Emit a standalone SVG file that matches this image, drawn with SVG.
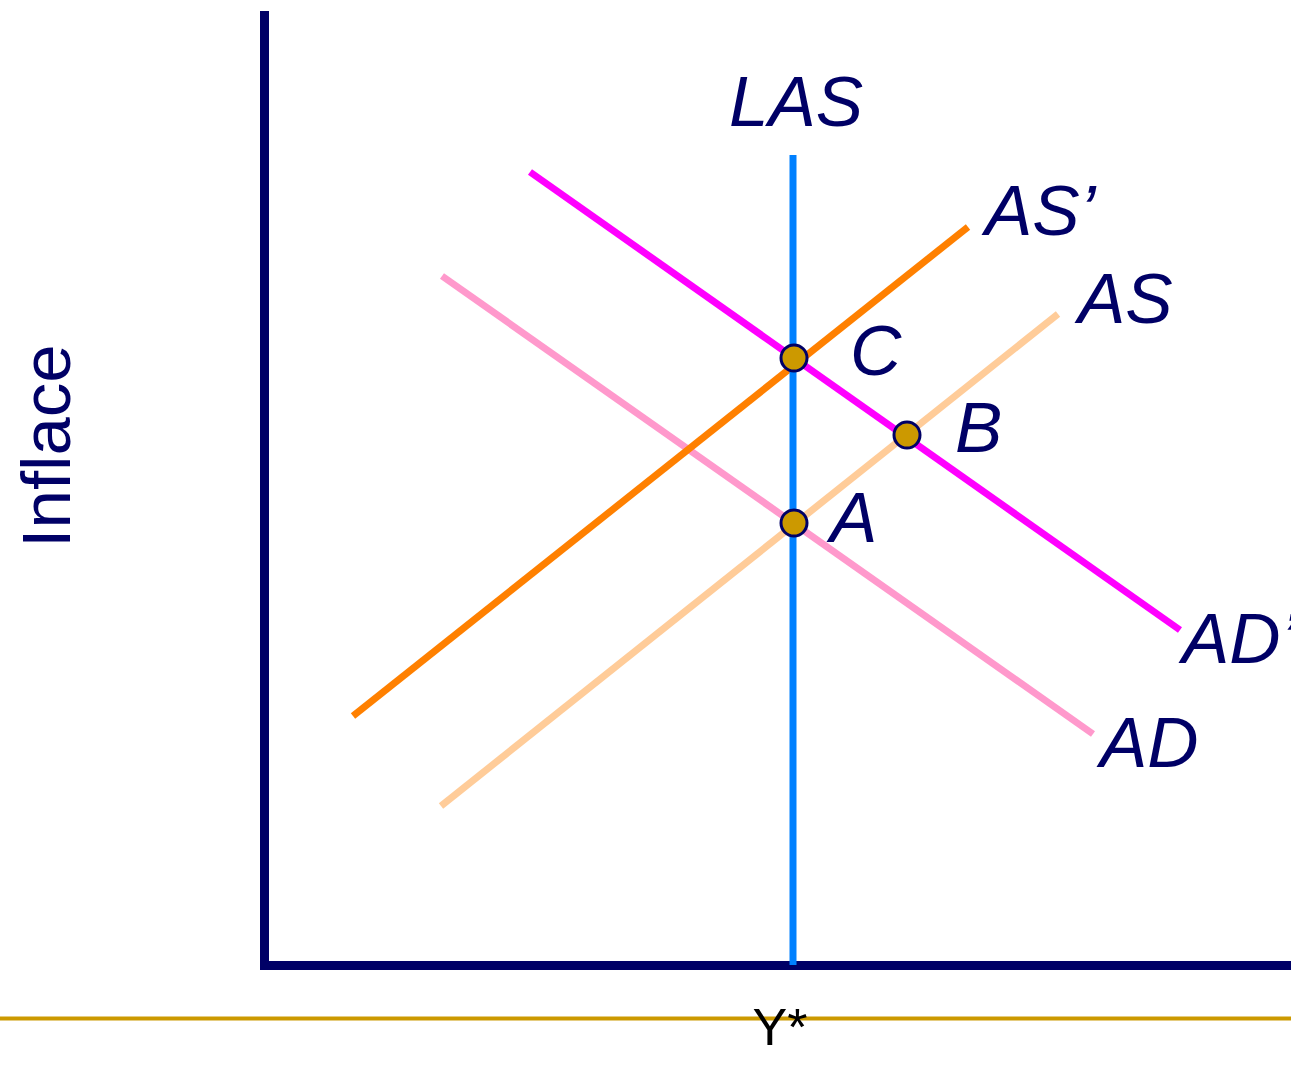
<svg xmlns="http://www.w3.org/2000/svg" width="1291" height="1091" viewBox="0 0 1291 1091">
<style>
.lbl{font-family:"Liberation Sans",Arial,sans-serif;font-style:italic;font-size:71px;fill:#000066}
.pt{fill:#CC9900;stroke:#000066;stroke-width:3}
.crv{stroke-width:7;fill:none}
</style>
<rect width="1291" height="1091" fill="#ffffff"/>
<g id="axes">
<line x1="264.5" y1="11" x2="264.5" y2="970" stroke="#000066" stroke-width="9"/>
<line x1="260" y1="965.5" x2="1291" y2="965.5" stroke="#000066" stroke-width="9"/>
<line x1="0" y1="1018.5" x2="1291" y2="1018.5" stroke="#CC9900" stroke-width="4"/>
</g>
<g id="connectors">
<line id="AD" class="crv" x1="442" y1="276" x2="1093" y2="734" stroke="#FF99CC"/>
<line id="AS" class="crv" x1="441" y1="806" x2="1058" y2="314" stroke="#FFCC99"/>
<line id="AS2" class="crv" x1="353" y1="716" x2="968" y2="227" stroke="#FF8000"/>
<line id="AD2" class="crv" x1="530" y1="172" x2="1180" y2="630" stroke="#FF00FF"/>
<line id="LAS" class="crv" x1="793" y1="155" x2="793" y2="965" stroke="#0080FF"/>
</g>
<g id="labels">
<text class="lbl" x="729" y="126">LAS</text>
<text class="lbl" x="985" y="235">AS’</text>
<text class="lbl" x="1078" y="323">AS</text>
<text class="lbl" x="1182" y="663">AD’</text>
<text class="lbl" x="1100" y="767">AD</text>
<text class="lbl" x="850" y="375">C</text>
<text class="lbl" x="955" y="452">B</text>
<text class="lbl" x="830" y="542">A</text>
<text x="70" y="446" transform="rotate(-90 70 446)" text-anchor="middle" font-family="Liberation Sans,Arial,sans-serif" font-size="69" fill="#000066">Inflace</text>
<text x="780" y="1045" text-anchor="middle" font-family="Liberation Sans,Arial,sans-serif" font-size="52" fill="#000000">Y*</text>
</g>
<g id="pointC"><circle class="pt" cx="794" cy="358" r="13"/></g>
<g id="pointB"><circle class="pt" cx="907" cy="435" r="13"/></g>
<g id="pointA"><circle class="pt" cx="794" cy="523" r="13"/></g>
</svg>
